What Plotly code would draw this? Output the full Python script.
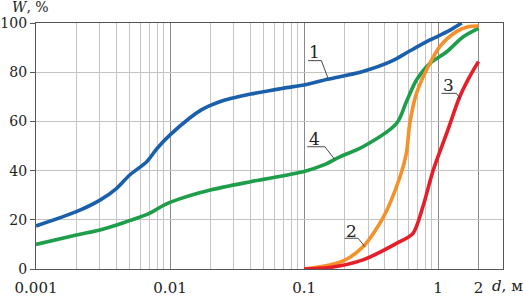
import plotly.graph_objects as go
import math

# Curve 1 (blue)
x1 = [0.001, 0.002, 0.003, 0.004, 0.005, 0.0067, 0.008, 0.01, 0.0141, 0.017, 0.02, 0.025, 0.03, 0.04, 0.07, 0.1, 0.15, 0.27, 0.45, 0.6, 0.87, 1.2, 1.5]
y1 = [17.5, 23.3, 28, 32.8, 38.2, 43.6, 49, 54.5, 61.5, 64.6, 66.5, 68.5, 69.6, 71.1, 73.5, 74.8, 77.1, 80.2, 84.5, 88.3, 93.1, 96.8, 100]

# Curve 4 (green)
x4 = [0.001, 0.002, 0.003, 0.004, 0.007, 0.009, 0.0115, 0.02, 0.04, 0.1, 0.14, 0.185, 0.275, 0.49, 0.58, 0.69, 0.87, 1.16, 1.54, 2]
y4 = [10, 13.8, 15.9, 17.9, 22.6, 26, 28.3, 32.1, 35.5, 39.6, 42.3, 45.6, 49.7, 59.2, 68.0, 76.8, 83.6, 88.3, 94.4, 97.8]

# Curve 2 (orange)
x2 = [0.1, 0.155, 0.2, 0.275, 0.39, 0.52, 0.58, 0.615, 0.69, 0.82, 1.03, 1.37, 1.7, 2]
y2 = [0, 1.6, 3.5, 9, 21, 37.5, 47, 59.2, 71.4, 80.9, 90.4, 96.5, 98.6, 98.8]

# Curve 3 (red)
x3 = [0.1, 0.155, 0.275, 0.49, 0.65, 0.77, 0.92, 1.16, 1.45, 1.72, 2]
y3 = [0, 0.6, 3.7, 10.4, 14.5, 25.3, 40.2, 55.2, 70, 78.2, 84.3]

x_tickvals = [0.001, 0.01, 0.1, 1, 2]
x_ticktext = ["0.001", "0.01", "0.1", "1", "2"]
y_tickvals = [0, 20, 40, 60, 80, 100]

curve_labels = ["1", "4", "2", "3"]

FONT = "DejaVu Serif"

fig = go.Figure()
series = [(x1, y1, "#1a5fab"), (x4, y4, "#1e9e4a"), (x2, y2, "#f5902a"), (x3, y3, "#e61e2a")]
for xs, ys, c in series:
    fig.add_trace(go.Scatter(x=xs, y=ys, mode="lines",
                             line=dict(color=c, width=3.6, shape="spline", smoothing=0.8),
                             hoverinfo="skip", showlegend=False))

# leader lines (underline + pointer) for curve numbers
leaders = [
    ([0.1071, 0.1346, 0.151], [84.7, 84.7, 77.5]),
    ([0.1057, 0.143, 0.169], [49.7, 49.7, 44.6]),
    ([0.201, 0.253, 0.284], [12.5, 12.5, 9.1]),
    ([1.06, 1.37, 1.47], [71.4, 71.4, 69.0]),
]
for lx, ly in leaders:
    fig.add_trace(go.Scatter(x=lx, y=ly, mode="lines", line=dict(color="#333", width=0.9),
                             hoverinfo="skip", showlegend=False))

label_pos = [(0.120, 88.3), (0.120, 53.0), (0.226, 15.6), (1.19, 74.8)]
for txt, (lx, ly) in zip(curve_labels, label_pos):
    fig.add_annotation(x=math.log10(lx), y=ly, text=txt, showarrow=False,
                       font=dict(family=FONT, size=17, color="#222"),
                       xanchor="center", yanchor="middle")

fig.add_annotation(xref="paper", yref="paper", x=-0.055, y=1.064, text="<i>W</i>, %",
                   showarrow=False, font=dict(family=FONT, size=14, color="#222"),
                   xanchor="left", yanchor="middle")
fig.add_annotation(xref="paper", yref="paper", x=0.972, y=-0.068, text="<i>d</i>, м",
                   showarrow=False, font=dict(family=FONT, size=15, color="#222"),
                   xanchor="left", yanchor="middle")

fig.update_layout(
    width=523, height=297,
    margin=dict(l=36, r=20, t=23, b=28, autoexpand=False),
    paper_bgcolor="white", plot_bgcolor="white",
    showlegend=False,
    font=dict(family=FONT, size=15, color="#222"),
)
fig.update_xaxes(
    type="log", range=[-3, 0.4843], automargin=False,
    tickmode="array", tickvals=x_tickvals, ticktext=x_ticktext,
    showgrid=True, gridcolor="#8a8a8a", gridwidth=1,
    minor=dict(dtick="D1", showgrid=True, gridcolor="#c4c4c4", gridwidth=1, ticks=""),
    showline=True, linecolor="#555", linewidth=1.3, mirror=True,
    ticks="outside", ticklen=5, tickcolor="rgba(0,0,0,0)",
    zeroline=False,
    tickfont=dict(family=FONT, size=15, color="#222"),
)
fig.update_yaxes(
    range=[0, 100], tickmode="array", tickvals=y_tickvals, automargin=False,
    showgrid=True, gridcolor="#c4c4c4", gridwidth=1,
    showline=True, linecolor="#555", linewidth=1.3, mirror=True,
    ticks="outside", ticklen=5, tickcolor="#555", tickwidth=1,
    zeroline=False,
    tickfont=dict(family=FONT, size=14, color="#222"),
)

fig.write_html("out.html", config={"displayModeBar": False},
               post_script="document.body.style.margin='0px';document.body.style.overflow='hidden';")
